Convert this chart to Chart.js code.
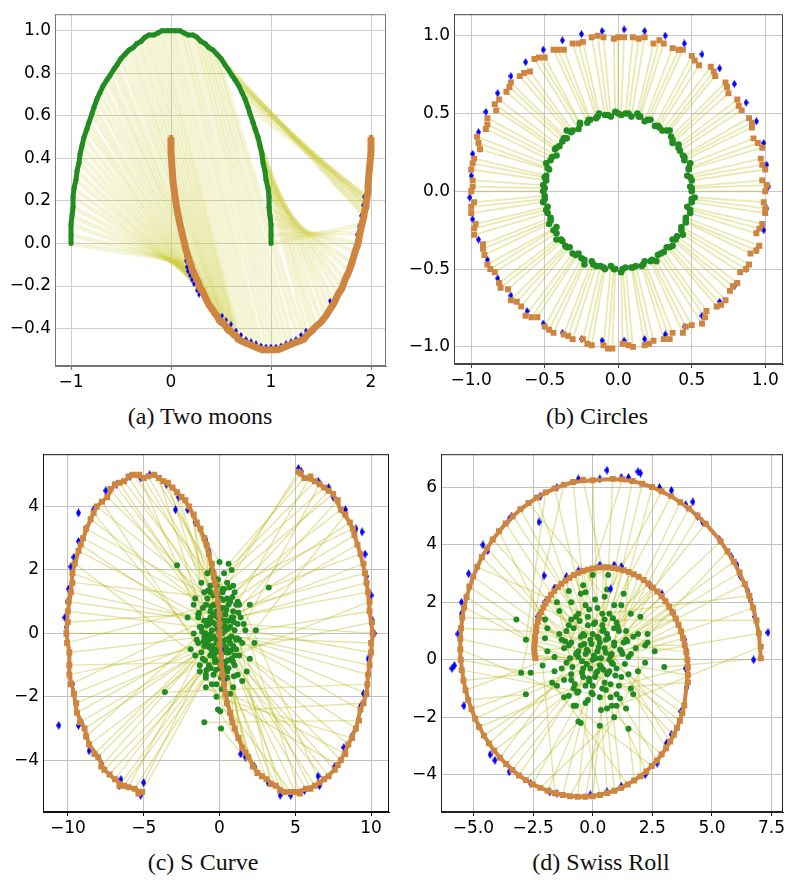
<!DOCTYPE html>
<html>
<head>
<meta charset="utf-8">
<script src="https://cdn.jsdelivr.net/npm/chart.js@4.4.1/dist/chart.umd.min.js"></script>
<style>
  body { margin: 0; background: #fff; width: 788px; height: 880px; position: relative; overflow: hidden; }
  canvas { position: absolute; }
  .cap { position: absolute; width: 394px; text-align: center; font-family: "Liberation Serif", "Times New Roman", serif;
         font-size: 24px; line-height: 24px; color: #111; }
</style>
</head>
<body>
<canvas id="chartA" width="394" height="400" style="left:0;top:0"></canvas>
<canvas id="chartB" width="394" height="400" style="left:394px;top:0"></canvas>
<canvas id="chartC" width="394" height="400" style="left:0;top:440px"></canvas>
<canvas id="chartD" width="394" height="400" style="left:394px;top:440px"></canvas>
<div class="cap" style="left:3px;top:404px">(a) Two moons</div>
<div class="cap" style="left:400px;top:404px">(b) Circles</div>
<div class="cap" style="left:6px;top:850px">(c) S Curve</div>
<div class="cap" style="left:404px;top:850px">(d) Swiss Roll</div>
<script>
// (a) Two moons: green source i is linked to orange target i
const greenA = [[-1.00,0.00],[-1.00,0.04],[-1.00,0.09],[-0.99,0.13],[-0.98,0.17],[-0.98,0.22],[-0.97,0.26],[-0.95,0.30],[-0.94,0.34],[-0.92,0.38],
  [-0.91,0.42],[-0.89,0.46],[-0.87,0.50],[-0.84,0.54],[-0.82,0.57],[-0.79,0.61],[-0.77,0.64],[-0.74,0.68],[-0.71,0.71],[-0.68,0.74],
  [-0.64,0.77],[-0.61,0.79],[-0.57,0.82],[-0.54,0.84],[-0.50,0.87],[-0.46,0.89],[-0.42,0.91],[-0.38,0.92],[-0.34,0.94],[-0.30,0.95],
  [-0.26,0.97],[-0.22,0.98],[-0.17,0.98],[-0.13,0.99],[-0.09,1.00],[-0.04,1.00],[0.00,1.00],[0.04,1.00],[0.09,1.00],[0.13,0.99],
  [0.17,0.98],[0.22,0.98],[0.26,0.97],[0.30,0.95],[0.34,0.94],[0.38,0.92],[0.42,0.91],[0.46,0.89],[0.50,0.87],[0.54,0.84],
  [0.57,0.82],[0.61,0.79],[0.64,0.77],[0.68,0.74],[0.71,0.71],[0.74,0.68],[0.77,0.64],[0.79,0.61],[0.82,0.57],[0.84,0.54],
  [0.87,0.50],[0.89,0.46],[0.91,0.42],[0.92,0.38],[0.94,0.34],[0.95,0.30],[0.97,0.26],[0.98,0.22],[0.98,0.17],[0.99,0.13],
  [1.00,0.09],[1.00,0.04],[1.00,0.00]];
const orangeA = [[0.19,-0.09],[0.20,-0.10],[0.21,-0.12],[0.22,-0.13],[0.23,-0.14],[0.25,-0.16],
  [0.27,-0.18],[0.28,-0.19],[0.29,-0.21],[0.31,-0.22],[0.32,-0.23],[0.33,-0.24],[0.34,-0.25],[0.36,-0.27],[0.37,-0.28],[0.38,-0.29],
  [0.40,-0.30],[0.41,-0.31],[0.43,-0.32],[0.44,-0.33],[0.46,-0.34],[0.47,-0.35],[0.48,-0.36],[0.50,-0.37],[0.52,-0.37],[0.53,-0.38],
  [0.55,-0.39],[0.56,-0.40],[0.58,-0.41],[0.59,-0.41],[0.61,-0.42],[0.63,-0.43],[0.64,-0.43],[0.66,-0.44],[0.67,-0.45],
  [0.71,-0.46],[0.76,-0.47],[0.81,-0.48],[0.86,-0.49],[0.91,-0.50],[0.97,-0.50],[1.02,-0.50],[1.07,-0.50],[1.12,-0.49],[1.17,-0.48],
  [1.22,-0.47],[1.28,-0.46],[1.33,-0.45],
  [1.93,0.13],[1.93,0.14],[1.94,0.16],[1.95,0.17],[1.95,0.19],[1.95,0.19],[1.96,0.21],[1.96,0.21],[1.96,0.22],
  [1.36,-0.43],[1.41,-0.41],[1.45,-0.39],[1.50,-0.37],[1.55,-0.34],[1.59,-0.31],[1.63,-0.28],[1.67,-0.24],[1.71,-0.21],[1.74,-0.17],
  [1.78,-0.13],[1.81,-0.09],[1.84,-0.04],[1.87,0.00],[1.89,0.05],[1.91,0.09]];
const orangeArmsA = [[0.00,0.50],[0.00,0.43],[0.01,0.36],[0.02,0.29],[0.04,0.22],[0.06,0.16],[0.09,0.09],[0.12,0.03],[0.15,-0.03],[0.17,-0.06],
  [1.97,0.24],[1.97,0.27],[1.98,0.33],[1.99,0.38],[2.00,0.43],[2.00,0.50]];
const blueA = [[0.14,-0.03],[0.15,-0.06],[0.15,-0.08],[0.16,-0.11],[0.17,-0.13],[0.19,-0.15],[0.21,-0.17],[0.23,-0.19],[0.26,-0.22],[0.28,-0.24],
  [0.51,-0.34],[0.55,-0.36],[0.60,-0.38],[0.65,-0.41],[0.70,-0.43],[0.75,-0.45],[0.80,-0.46],[0.85,-0.47],[0.90,-0.48],[0.95,-0.485],
  [1.00,-0.485],[1.05,-0.485],[1.10,-0.48],[1.15,-0.47],[1.20,-0.46],[1.25,-0.45],[1.30,-0.43],[1.35,-0.41],
  [1.59,-0.27],[1.60,-0.28],[1.86,0.04],[1.88,0.08],[1.90,0.13],[1.92,0.18],[1.93,0.22]];
const xTicksA = [-1, 0, 1, 2];
const xLabelsA = ['−1', '0', '1', '2'];
const yTicksA = [-0.4, -0.2, 0, 0.2, 0.4, 0.6, 0.8, 1.0];
const yLabelsA = ['−0.4', '−0.2', '0.0', '0.2', '0.4', '0.6', '0.8', '1.0'];

// (b) Circles
const greenB = [[0.50,0.00],[0.49,0.03],[0.50,0.07],[0.47,0.10],[0.48,0.14],[0.49,0.18],[0.45,0.20],[0.44,0.23],[0.42,0.26],[0.41,0.30],
  [0.37,0.31],[0.36,0.35],[0.35,0.39],[0.30,0.39],[0.28,0.41],[0.25,0.42],[0.22,0.46],[0.18,0.45],[0.15,0.48],[0.13,0.50],
  [0.09,0.48],[0.05,0.50],[0.02,0.49],[-0.02,0.51],[-0.05,0.48],[-0.09,0.49],[-0.13,0.50],[-0.15,0.47],[-0.19,0.46],[-0.21,0.44],
  [-0.26,0.44],[-0.27,0.40],[-0.31,0.39],[-0.35,0.39],[-0.35,0.34],[-0.38,0.32],[-0.40,0.29],[-0.43,0.27],[-0.42,0.23],[-0.46,0.20],
  [-0.49,0.18],[-0.47,0.14],[-0.49,0.10],[-0.49,0.07],[-0.51,0.04],[-0.51,0.00],[-0.50,-0.03],[-0.51,-0.07],[-0.48,-0.10],[-0.48,-0.14],
  [-0.46,-0.17],[-0.47,-0.21],[-0.42,-0.23],[-0.42,-0.27],[-0.42,-0.31],[-0.38,-0.32],[-0.36,-0.35],[-0.33,-0.36],[-0.31,-0.40],[-0.27,-0.40],
  [-0.25,-0.43],[-0.23,-0.47],[-0.18,-0.45],[-0.15,-0.48],[-0.12,-0.48],[-0.09,-0.50],[-0.05,-0.48],[-0.02,-0.50],[0.02,-0.52],[0.05,-0.49],
  [0.09,-0.49],[0.12,-0.48],[0.16,-0.48],[0.18,-0.45],[0.22,-0.45],[0.26,-0.45],[0.27,-0.41],[0.31,-0.39],[0.33,-0.36],[0.37,-0.35],
  [0.37,-0.31],[0.40,-0.29],[0.44,-0.28],[0.43,-0.23],[0.46,-0.20],[0.46,-0.17],[0.49,-0.14],[0.47,-0.10],[0.50,-0.07],[0.52,-0.04]];
const orangeB = [[1.00,0.00],[0.98,0.07],[1.00,0.14],[0.97,0.21],[0.98,0.28],[0.92,0.34],[0.91,0.41],[0.89,0.47],[0.84,0.52],[0.81,0.59],
  [0.75,0.63],[0.73,0.70],[0.66,0.74],[0.63,0.80],[0.55,0.81],[0.50,0.87],[0.44,0.91],[0.37,0.92],[0.31,0.95],[0.24,0.95],
  [0.18,0.99],[0.10,0.99],[0.04,0.99],[-0.03,0.98],[-0.10,0.99],[-0.18,0.99],[-0.24,0.96],[-0.31,0.95],[-0.37,0.91],[-0.44,0.91],
  [-0.50,0.86],[-0.57,0.85],[-0.60,0.77],[-0.67,0.74],[-0.73,0.70],[-0.76,0.64],[-0.81,0.59],[-0.83,0.52],[-0.89,0.47],[-0.90,0.40],
  [-0.96,0.35],[-0.94,0.27],[-0.98,0.21],[-1.00,0.14],[-0.99,0.07],[-1.00,0.00],[-0.98,-0.07],[-1.00,-0.14],[-0.97,-0.21],[-0.98,-0.28],
  [-0.92,-0.34],[-0.91,-0.41],[-0.89,-0.47],[-0.84,-0.52],[-0.81,-0.59],[-0.75,-0.63],[-0.73,-0.70],[-0.66,-0.74],[-0.63,-0.80],[-0.55,-0.81],
  [-0.50,-0.87],[-0.44,-0.91],[-0.37,-0.92],[-0.31,-0.95],[-0.24,-0.95],[-0.18,-0.99],[-0.10,-0.99],[-0.04,-1.01],[0.03,-0.98],[0.10,-1.00],
  [0.18,-0.99],[0.24,-0.96],[0.31,-0.95],[0.37,-0.91],[0.44,-0.91],[0.50,-0.86],[0.57,-0.85],[0.60,-0.77],[0.67,-0.74],[0.73,-0.70],
  [0.76,-0.64],[0.81,-0.59],[0.83,-0.52],[0.89,-0.47],[0.90,-0.40],[0.96,-0.35],[0.94,-0.27],[0.98,-0.21],[1.00,-0.14],[0.99,-0.07]];
const greenB2 = [[0.50,0.02],[0.49,0.09],[0.48,0.15],[0.45,0.22],[0.41,0.28],[0.37,0.33],[0.33,0.39],[0.27,0.42],[0.20,0.46],[0.14,0.48],
  [0.07,0.50],[0.00,0.50],[-0.07,0.49],[-0.14,0.48],[-0.20,0.46],[-0.26,0.43],[-0.32,0.38],[-0.37,0.34],[-0.42,0.28],[-0.45,0.22],
  [-0.48,0.15],[-0.50,0.09],[-0.50,0.02],[-0.50,-0.05],[-0.49,-0.12],[-0.46,-0.19],[-0.44,-0.25],[-0.39,-0.31],[-0.35,-0.36],[-0.29,-0.41],
  [-0.23,-0.44],[-0.17,-0.47],[-0.10,-0.49],[-0.03,-0.50],[0.03,-0.50],[0.10,-0.49],[0.17,-0.47],[0.23,-0.44],[0.29,-0.40],[0.35,-0.36],
  [0.39,-0.31],[0.43,-0.25],[0.46,-0.19],[0.49,-0.12],[0.50,-0.05]];
const orangeB2 = [[1.01,0.04],[0.98,0.17],[0.95,0.31],[0.91,0.44],[0.82,0.55],[0.74,0.67],[0.65,0.77],[0.52,0.84],[0.41,0.91],[0.28,0.97],
  [0.14,0.98],[0.00,0.99],[-0.14,1.00],[-0.27,0.95],[-0.41,0.91],[-0.54,0.86],[-0.64,0.76],[-0.74,0.67],[-0.84,0.56],[-0.89,0.43],
  [-0.95,0.31],[-0.99,0.18],[-0.99,0.03],[-1.00,-0.10],[-0.98,-0.24],[-0.92,-0.37],[-0.87,-0.50],[-0.80,-0.62],[-0.69,-0.71],[-0.59,-0.81],
  [-0.47,-0.89],[-0.34,-0.93],[-0.21,-0.98],[-0.07,-1.01],[0.07,-0.99],[0.21,-0.98],[0.35,-0.95],[0.46,-0.87],[0.59,-0.81],[0.70,-0.73],
  [0.78,-0.61],[0.87,-0.50],[0.94,-0.38],[0.96,-0.24],[1.00,-0.11]];
const blueB = [[1.02,0.03],[1.01,0.17],[0.99,0.31],[0.94,0.45],[0.87,0.57],[0.79,0.69],[0.69,0.79],[0.57,0.88],[0.45,0.95],[0.32,1.00],
  [0.18,1.03],[0.04,1.04],[-0.11,1.03],[-0.25,1.01],[-0.38,0.97],[-0.51,0.91],[-0.63,0.83],[-0.73,0.74],[-0.82,0.63],[-0.90,0.51],
  [-0.95,0.38],[-0.99,0.24],[-1.00,0.10],[-1.01,-0.04],[-0.99,-0.18],[-0.95,-0.31],[-0.89,-0.44],[-0.82,-0.56],[-0.73,-0.67],[-0.62,-0.77],
  [-0.51,-0.85],[-0.38,-0.91],[-0.25,-0.95],[-0.11,-0.96],[0.04,-0.96],[0.18,-0.95],[0.32,-0.92],[0.45,-0.87],[0.57,-0.80],[0.69,-0.71],
  [0.79,-0.61],[0.87,-0.50],[0.94,-0.38],[0.99,-0.25],[1.01,-0.11]];
const xTicksB = [-1, -0.5, 0, 0.5, 1];
const xLabelsB = ['−1.0', '−0.5', '0.0', '0.5', '1.0'];
const yTicksB = [-1, -0.5, 0, 0.5, 1];
const yLabelsB = ['−1.0', '−0.5', '0.0', '0.5', '1.0'];

// (c) S Curve: orangeC listed along the curve
const orangeC = [[-5.1,-5.0],[-5.6,-4.9],[-6.3,-4.8],[-6.9,-4.6],[-7.6,-4.3],[-8.0,-3.9],[-8.6,-3.5],[-8.9,-3.0],[-9.4,-2.5],[-9.6,-1.9],
  [-9.9,-1.3],[-9.9,-0.6],[-10.1,0.0],[-10.0,0.7],[-9.8,1.3],[-9.7,1.9],[-9.3,2.6],[-9.0,3.0],[-8.5,3.6],[-8.1,4.0],
  [-7.4,4.3],[-6.9,4.7],[-6.3,4.8],[-5.7,5.0],[-5.0,4.9],[-4.3,5.0],[-3.7,4.8],[-3.1,4.6],[-2.5,4.3],[-2.0,4.0],
  [-1.5,3.5],[-1.0,3.0],[-0.7,2.5],[-0.4,1.9],[-0.2,1.3],[0.0,0.6],[0.0,0.0],[0.1,-0.7],[0.2,-1.3],[0.4,-1.9],
  [0.7,-2.5],[1.0,-3.0],[1.5,-3.6],[1.9,-3.9],[2.5,-4.4],[3.1,-4.6],[3.7,-4.8],[4.3,-5.0],[5.0,-5.0],[5.7,-4.9],
  [6.3,-4.8],[6.9,-4.6],[7.6,-4.3],[8.0,-4.0],[8.5,-3.5],[9.0,-3.0],[9.3,-2.4],[9.7,-1.9],[9.8,-1.3],[10.0,-0.6],
  [10.1,0.0],[9.9,0.7],[9.8,1.3],[9.6,1.9],[9.3,2.5],[8.9,3.1],[8.6,3.5],[8.0,3.9],[7.5,4.4],[6.9,4.6],
  [6.3,4.8],[5.6,4.9],[5.2,5.1]];
const greenC = [[-0.6,-1.1],[-0.3,-0.9],[-0.9,-1.3],[-0.5,-0.6],[-1.3,-1.2],[-0.8,-0.4],[-1.1,-0.8],[-1.6,-0.7],[-0.7,-0.2],[-1.4,-0.3],
  [-1.9,-0.5],[-1.0,-0.1],[-1.7,0.0],[-1.2,0.2],[-0.8,0.4],[-2.1,0.5],[-1.4,0.6],[-0.9,0.9],[-1.6,1.1],[-1.0,1.3],
  [-2.8,2.15],[-0.6,0.7],[-1.2,1.6],[-0.8,1.9],[-0.4,1.2],[-0.5,2.0],[-0.2,1.5],[-0.3,0.9],[0.0,2.25],[-0.6,1.3],
  [0.1,1.1],[-0.1,1.7],[-0.4,0.6],[0.2,1.4],[-0.2,0.3],[0.3,0.8],[-0.1,-0.2],[0.3,-0.4],[-0.3,-0.5],[0.2,-1.3],
  [-0.2,-1.6],[0.6,-1.1],[-0.1,-2.4],[0.4,-0.9],[0.1,-3.0],[0.9,-1.7],[0.5,-1.4],[1.2,-1.3],[0.8,-0.8],[1.5,-1.5],
  [0.6,-0.6],[1.0,-1.0],[1.8,-1.2],[1.3,-0.7],[0.9,-0.4],[2.0,-0.8],[1.5,-0.3],[1.1,-0.2],[2.3,-0.3],[1.7,0.1],
  [1.2,0.3],[2.4,0.1],[0.9,0.5],[2.0,0.9],[3.25,1.45],[1.3,0.9],[0.7,1.0],[1.0,1.3],[0.5,1.6],[0.8,2.0],
  [0.3,1.9],[0.6,2.2],[0.2,1.3]];
const orangeC2 = [[-5.35,-5.05],[-6.0,-4.85],[-6.6,-4.8],[-7.25,-4.45],[-7.8,-4.2],[-8.25,-3.8],[-8.8,-3.25],[-9.2,-2.8],[-9.45,-2.2],[-9.8,-1.6],
  [-9.9,-1.0],[-10.05,-0.3],[-10.0,0.35],[-9.95,1.0],[-9.7,1.6],[-9.55,2.2],[-9.15,2.8],[-8.8,3.3],[-8.3,3.8],[-7.75,4.15],
  [-7.2,4.55],[-6.6,4.75],[-6.0,4.95],[-5.3,5.0],[-4.7,4.95],[-4.0,4.9],[-3.4,4.75],[-2.8,4.45],[-2.25,4.2],[-1.7,3.75],
  [-1.25,3.3],[-0.85,2.8],[-0.5,2.2],[-0.3,1.6],[-0.1,1.0],[0.0,0.3],[0.0,-0.35],[0.1,-1.0],[0.3,-1.6],[0.5,-2.2],
  [0.85,-2.8],[1.25,-3.3],[1.7,-3.75],[2.2,-4.2],[2.8,-4.5],[3.4,-4.75],[4.0,-4.95],[4.7,-5.0],[5.3,-5.05],[6.0,-4.9],
  [6.6,-4.7],[7.2,-4.5],[7.8,-4.15],[8.3,-3.8],[8.75,-3.3],[9.2,-2.75],[9.5,-2.2],[9.75,-1.6],[9.9,-1.0],[10.0,-0.3],
  [10.05,0.35],[9.9,1.0],[9.7,1.6],[9.5,2.2],[9.1,2.8],[8.8,3.3],[8.3,3.75],[7.8,4.2],[7.2,4.5],[6.6,4.7],
  [6.0,4.95],[5.35,5.05]];
const greenC2 = [[0.1,0.2],[-0.5,0.1],[0.4,-0.2],[-0.3,-0.8],[0.6,0.4],[-0.8,-0.3],[0.2,0.6],[-0.2,-0.3],[0.8,-0.1],[-0.6,0.5],
  [0.3,-0.9],[-0.4,0.9],[0.9,0.7],[-1.0,0.4],[0.5,1.1],[-0.7,-1.0],[1.1,-0.5],[-0.1,1.0],[0.0,-1.1],[-1.2,-0.6],
  [0.7,-0.3],[-0.3,0.3],[0.4,0.1],[-0.9,0.0],[1.0,0.1],[-0.5,-0.4],[0.2,-0.6],[-0.2,0.7],[0.6,0.9],[-1.1,0.8],
  [0.9,-0.9],[-0.4,-1.3],[0.3,1.4],[-1.3,0.2],[1.4,0.5],[-0.8,1.1],[0.1,-1.4],[1.2,1.0],[-1.5,-0.2],[0.5,-1.2],
  [-0.6,-0.7],[0.7,0.2],[-0.1,0.5],[0.0,-0.6],[-1.3,-1.0],[1.3,-0.2],[0.4,0.6],[-0.9,-1.4],[1.6,0.3],[-0.6,1.5],
  [0.9,1.5],[-1.7,0.9],[-0.9,-1.7],[0.7,-1.9],[-0.2,-2.0],[-1.0,-2.8],[0.05,-2.45],[-3.6,-1.85],[0.2,0.0],[-0.4,-0.1],
  [0.5,-0.6],[-0.1,-0.9],[0.3,0.4],[-0.7,0.3],[0.8,0.5],[-0.3,1.2],[1.0,-0.7],[-1.0,-0.4],[0.1,0.8],[-0.5,-1.6],
  [1.1,0.9],[-1.4,0.5]];
const greenCoreC = [[-0.15,0.15],[0.25,-0.35],[-0.45,-0.15],[0.55,0.15],[-0.25,0.55],[0.15,-0.25],[-0.65,-0.45],[0.45,0.75],[-0.05,-0.45],[0.75,-0.55],
  [-0.85,0.25],[0.05,0.45],[-0.35,-0.65],[0.65,-0.15],[-0.55,0.85],[0.35,-1.05],[-0.95,-0.85],[0.95,0.35],[-0.15,1.25],[0.25,1.05],
  [-1.15,0.05],[1.15,-0.15],[-0.75,1.35],[0.55,-0.85],[-0.25,-1.15],[0.85,1.15],[-1.05,-0.25],[0.15,-1.75],[-0.45,0.35],[0.35,0.25],
  [-0.05,0.05],[0.45,-0.45],[-0.65,-0.05],[0.05,0.75],[-0.85,-1.15],[1.25,0.65],[-1.35,0.65],[0.65,1.45],[-0.35,1.75],[0.95,-1.35]];
const blueC = [[-5.2,-5.1],[-5.0,-4.7],[-6.5,-4.6],[-6.6,-4.8],[-7.8,-4.1],[-8.6,-3.7],[-9.1,-2.8],[-9.3,-2.9],[-9.7,-1.6],[-10.0,-0.3],
  [-10.1,0.2],[-10.2,0.5],[-10.0,1.0],[-9.95,1.4],[-9.8,2.1],[-9.6,2.4],[-9.3,2.9],[-8.8,3.3],[-8.3,3.9],[-7.5,4.5],
  [-6.8,4.7],[-5.9,4.95],[-5.2,4.9],[-4.6,5.0],[-3.5,4.7],[-2.7,4.3],[-2.1,3.9],[-1.6,3.5],[-0.9,2.95],[-0.7,2.6],
  [-0.3,1.6],[-0.1,1.0],[0.1,-0.5],[0.3,-1.5],[0.5,-2.2],[0.8,-2.7],[1.4,-3.8],[1.7,-3.9],[2.3,-4.2],[3.2,-4.7],
  [4.0,-5.1],[4.7,-5.1],[5.6,-4.95],[6.5,-4.5],[6.6,-4.8],[7.6,-4.2],[8.2,-3.6],[8.8,-3.2],[9.3,-2.3],[9.5,-1.9],
  [9.8,-0.8],[10.2,0.0],[10.1,0.4],[10.0,1.2],[9.7,1.8],[9.6,2.5],[9.4,3.2],[9.0,3.3],[8.3,3.9],[7.5,4.3],
  [7.2,4.6],[6.5,4.8],[5.2,5.2],[5.4,5.1],[-10.6,-2.9],[-9.3,3.8],[-2.9,3.9]];
const xTicksC = [-10, -5, 0, 5, 10];
const xLabelsC = ['−10', '−5', '0', '5', '10'];
const yTicksC = [-4, -2, 0, 2, 4];
const yLabelsC = ['−4', '−2', '0', '2', '4'];

// (d) Swiss Roll: orangeD listed along the spiral, from the inner end outwards
const orangeD = [[-2.40,0.05],[-2.45,0.32],[-2.42,0.66],[-2.38,1.00],[-2.30,1.33],[-2.16,1.66],[-1.97,1.97],[-1.74,2.27],[-1.46,2.53],[-1.14,2.76],
  [-0.79,2.95],[-0.41,3.09],[0.00,3.18],[0.43,3.22],[0.86,3.20],[1.29,3.12],[1.72,2.98],[2.14,2.78],[2.52,2.52],[2.89,2.22],
  [3.21,1.85],[3.48,1.44],[3.71,0.99],[3.86,0.51],[3.97,0.00],[3.99,-0.53],[3.84,-1.59],[3.66,-2.12],[3.40,-2.61],[3.08,-3.08],
  [2.69,-3.51],[2.25,-3.89],[1.74,-4.20],[1.20,-4.46],[0.61,-4.64],[0.00,-4.75],[-0.63,-4.77],[-1.26,-4.71],[-1.89,-4.56],[-2.51,-4.34],
  [-3.09,-4.03],[-3.63,-3.63],[-4.13,-3.17],[-4.56,-2.64],[-4.93,-2.05],[-5.22,-1.40],[-5.42,-0.72],[-5.53,0.00],[-5.55,0.73],[-5.47,1.47],
  [-5.29,2.19],[-5.01,2.90],[-4.65,3.57],[-4.19,4.19],[-3.65,4.75],[-3.03,5.24],[-2.34,5.65],[-1.60,5.97],[-0.82,6.19],[0.00,6.25],
  [0.84,6.30],[1.67,6.23],[2.49,6.02],[3.29,5.70],[4.04,5.27],[4.74,4.74],[5.37,4.12],[5.92,3.42],[6.38,2.64],[6.73,1.81],
  [6.97,0.92],[7.05,0.05]];
const greenD = [[-0.6,0.1],[-1.2,0.4],[-0.3,0.2],[-0.9,0.6],[-1.4,0.9],[-0.5,0.5],[-1.0,1.2],[-0.4,0.9],[-0.7,1.5],[-0.1,0.7],
  [-0.3,1.9],[0.1,1.3],[-0.5,2.3],[0.4,1.0],[0.0,2.95],[0.7,1.6],[0.3,0.6],[1.0,1.3],[0.6,0.9],[1.4,1.0],
  [0.9,0.5],[1.7,0.8],[1.2,0.3],[2.2,0.5],[1.5,0.1],[0.8,-0.1],[1.9,-0.4],[1.2,-0.6],[0.7,-0.4],[1.6,-1.0],
  [1.0,-1.2],[0.5,-0.8],[1.5,-2.4],[0.8,-1.6],[0.3,-1.3],[0.3,-2.3],[-0.2,-1.4],[-0.5,-2.2],[0.0,-0.9],[-0.7,-1.6],
  [-0.4,-0.6],[-1.2,-1.3],[-0.8,-1.0],[-1.5,-0.9],[-0.9,-0.5],[-2.8,-1.2],[-1.6,-0.4],[-2.6,-0.45],[-1.1,-0.1],[-3.2,1.4],
  [-1.9,0.3],[-1.3,0.7],[-2.0,1.4],[-0.8,1.1],[-1.5,2.0],[-0.6,1.6],[-1.0,2.4],[-0.2,1.2],[-0.4,2.6],[0.2,1.8],
  [0.65,2.95],[0.5,1.4],[1.3,2.3],[0.9,1.9],[1.6,1.6],[1.1,1.0],[2.0,1.5],[1.4,0.7],[2.3,0.9],[1.8,0.4],
  [2.6,0.3],[3.0,-0.25]];
const orangeD2 = [[-2.43,0.16],[-2.45,0.49],[-2.43,0.82],[-2.36,1.16],[-2.24,1.50],[-2.07,1.82],[-1.86,2.12],[-1.61,2.40],[-1.31,2.65],[-0.97,2.86],
  [-0.60,3.03],[-0.20,3.14],[0.21,3.21],[0.64,3.22],[1.07,3.17],[1.51,3.06],[1.93,2.89],[2.33,2.66],[2.71,2.38],[3.05,2.04],
  [3.35,1.65],[3.60,1.22],[3.79,0.75],[3.93,0.26],[3.99,-0.26],[3.99,-0.79],[3.76,-1.85],[3.54,-2.37],[3.25,-2.85],[2.89,-3.30],
  [2.48,-3.70],[2.00,-4.06],[1.47,-4.34],[0.91,-4.56],[0.31,-4.71],[-0.31,-4.77],[-0.95,-4.75],[-1.58,-4.65],[-2.20,-4.46],[-2.80,-4.19],
  [-3.37,-3.84],[-3.89,-3.41],[-4.35,-2.91],[-4.76,-2.34],[-5.08,-1.72],[-5.33,-1.06],[-5.49,-0.36],[-5.55,0.36],[-5.52,1.10],[-5.39,1.83],
  [-5.17,2.55],[-4.84,3.24],[-4.43,3.88],[-3.93,4.48],[-3.35,5.00],[-2.69,5.46],[-1.97,5.83],[-1.21,6.10],[-0.41,6.27],[1.25,6.29],
  [2.08,6.13],[2.89,5.87],[3.67,5.49],[4.40,5.02],[5.65,3.78],[6.16,3.04],[6.57,2.23],[6.87,1.37],[7.05,0.46]];
const greenD2 = [[0.0,0.0],[0.3,-0.2],[-0.2,0.3],[0.5,0.4],[-0.4,-0.3],[0.2,0.8],[0.8,0.2],[-0.7,0.2],[0.1,-0.6],[0.6,-0.5],
  [-0.3,-0.9],[1.0,-0.3],[-1.0,0.5],[0.4,1.2],[-0.6,-1.1],[1.3,0.6],[0.0,-1.2],[-1.3,-0.3],[0.9,1.1],[-0.9,-0.7],
  [0.2,0.3],[-0.1,-0.3],[0.7,0.0],[-0.5,0.8],[1.1,-0.9],[0.4,-1.0],[-1.1,1.0],[1.5,-0.5],[-0.2,1.5],[0.6,-1.7],
  [-0.8,-1.6],[1.9,0.9],[-1.7,-0.8],[0.1,2.1],[-1.4,1.7],[1.2,1.9],[2.2,-0.1],[-2.1,-0.2],[0.9,-2.0],[-0.6,-2.15],
  [0.35,0.05],[-0.35,0.55],[0.55,0.7],[-0.15,-0.75],[1.25,0.2],[-1.6,0.1],[0.75,-1.3],[-1.0,-1.25],[0.0,0.9],[1.7,-1.2],
  [-2.0,0.75],[2.3,0.6],[1.4,-1.7],[-1.9,1.1],[-0.9,2.0],[0.5,2.2],[-2.8,0.7],[-3.0,-0.45],[0.6,2.45],[-0.3,2.35],
  [0.2,-0.4],[-0.6,0.3],[0.9,0.6],[-0.3,-1.5],[1.6,0.2],[-1.2,-0.7],[0.4,1.6],[-0.9,1.4],[1.0,-1.6]];
const greenCoreD = [[0.05,0.15],[0.45,-0.35],[-0.25,-0.15],[0.75,0.15],[-0.05,0.55],[0.35,-0.25],[-0.45,-0.45],[0.65,0.75],[0.15,-0.45],[0.95,-0.55],
  [-0.65,0.25],[0.25,0.45],[-0.15,-0.65],[0.85,-0.15],[-0.35,0.85],[0.55,-1.05],[-0.75,-0.85],[1.15,0.35],[0.05,1.25],[0.45,1.05],
  [-0.95,0.05],[1.35,-0.15],[-0.55,1.35],[0.75,-0.85],[-0.05,-1.15],[1.05,1.15],[-0.85,-0.25],[0.35,-1.75],[-0.25,0.35],[0.55,0.25],
  [0.15,0.05],[0.65,-0.45],[-0.45,-0.05],[0.25,0.75],[-0.65,-1.15],[1.45,0.65],[-1.15,0.65],[0.85,1.45],[-0.15,1.75],[1.15,-1.35]];
const blueD = [[-0.6,6.3],[0.6,6.6],[1.2,6.35],[2.0,6.5],[1.5,6.35],[-2.2,5.7],[-1.5,6.0],[-3.4,5.0],[-3.5,4.9],[-4.6,4.0],
  [-4.4,3.8],[-5.2,3.0],[-5.5,2.0],[-5.5,1.6],[-5.65,0.9],[-5.8,-0.2],[-5.9,-0.3],[-5.4,-1.6],[-4.8,-2.3],[-4.3,-3.3],
  [-4.1,-3.5],[-3.5,-3.9],[-2.6,-4.3],[-1.8,-4.6],[-1.5,-4.65],[-0.1,-4.7],[0.6,-4.6],[1.2,-4.4],[2.2,-4.0],[2.7,-3.6],
  [3.1,-2.9],[3.3,-2.6],[3.7,-1.8],[3.95,-0.95],[3.9,-0.3],[3.95,0.3],[3.85,0.7],[3.4,1.6],[2.9,2.3],[2.4,2.6],
  [1.2,3.25],[0.9,3.3],[0.3,3.3],[-0.6,3.1],[-1.1,2.9],[-1.6,2.5],[-2.0,2.0],[-2.3,1.5],[-2.4,0.9],[-2.45,0.4],
  [-2.25,4.8],[-2.04,2.93],[0.75,2.47],[5.3,4.2],[5.8,3.6],[6.05,3.3],[6.2,2.9],[6.5,2.4],[6.6,2.1],[6.8,1.5],
  [7.35,0.95],[6.75,0.0],[2.8,6.0],[3.3,5.9],[3.9,5.4],[4.4,5.0],[4.6,4.8],[4.2,5.5],[1.9,6.55],[0.3,6.3]];
const xTicksD = [-5, -2.5, 0, 2.5, 5, 7.5];
const xLabelsD = ['−5.0', '−2.5', '0.0', '2.5', '5.0', '7.5'];
const yTicksD = [-4, -2, 0, 2, 4, 6];
const yLabelsD = ['−4', '−2', '0', '2', '4', '6'];

// ---- styling and helpers ----
const GREEN = '#228b22', ORANGE = '#cd853f', BLUE = '#0000ff';
Chart.defaults.font.family = "'DejaVu Sans', sans-serif";
Chart.defaults.font.size = 17;
Chart.defaults.color = '#000';

const toXY = (arr) => arr.map(p => ({ x: p[0], y: p[1] }));

// one segment per pair, separated by an empty point
function linkData(src, dst) {
  const out = [];
  const n = Math.min(src.length, dst.length);
  for (let i = 0; i < n; i++) {
    out.push({ x: src[i][0], y: src[i][1] }, { x: dst[i][0], y: dst[i][1] }, { x: null, y: null });
  }
  return out;
}

function thinDiamond(w, h) {
  const c = document.createElement('canvas');
  c.width = w; c.height = h;
  const g = c.getContext('2d');
  g.fillStyle = BLUE;
  g.beginPath();
  g.moveTo(w / 2, 0); g.lineTo(w, h / 2); g.lineTo(w / 2, h); g.lineTo(0, h / 2);
  g.closePath(); g.fill();
  return c;
}

// frame on all four sides of the plot area
const framePlugin = {
  id: 'frame',
  afterDraw(chart, args, opts) {
    const a = chart.chartArea, ctx = chart.ctx;
    ctx.save();
    ctx.strokeStyle = opts.color;
    ctx.lineWidth = 1;
    ctx.strokeRect(a.left + 0.5, a.top + 0.5, a.right - a.left - 1, a.bottom - a.top - 1);
    ctx.restore();
  }
};

// each segment stroked on its own so overlapping lines build up like in the figure
function linkSet(src, dst, width, color) {
  return {
    data: linkData(src, dst), showLine: true, borderColor: color, borderWidth: width,
    pointRadius: 0, segment: { borderColor: color }, order: 6
  };
}

function drawPanel(id, p) {
  new Chart(document.getElementById(id), {
    type: 'scatter',
    data: { datasets: p.datasets },
    options: {
      responsive: false,
      animation: false,
      events: [],
      layout: { padding: p.padding },
      plugins: { legend: { display: false }, tooltip: { enabled: false }, frame: { color: p.frame } },
      scales: {
        x: {
          min: p.xRange[0], max: p.xRange[1],
          afterBuildTicks: (s) => { s.ticks = p.xTicks.map(v => ({ value: v })); },
          afterFit: (s) => { s.height = p.xHeight; },
          ticks: { callback: (v, i) => p.xLabels[i], padding: 2, autoSkip: false, maxRotation: 0 },
          grid: { color: p.grid, tickColor: p.frame, tickLength: 4 },
          border: { color: p.frame }
        },
        y: {
          min: p.yRange[0], max: p.yRange[1],
          afterBuildTicks: (s) => { s.ticks = p.yTicks.map(v => ({ value: v })); },
          afterFit: (s) => { s.width = p.yWidth; },
          ticks: { callback: (v, i) => p.yLabels[i], padding: 4, autoSkip: false },
          grid: { color: p.grid, drawTicks: false },
          border: { color: p.frame }
        }
      }
    },
    plugins: [framePlugin]
  });
}

// (a) orange arc drawn in order along the moon
const arcA = toXY(orangeA.concat(orangeArmsA))
  .sort((a, b) => Math.atan2(0.5 - a.y, 1 - a.x) - Math.atan2(0.5 - b.y, 1 - b.x));
drawPanel('chartA', {
  padding: { top: 7, right: 8, left: 0, bottom: 0 }, xHeight: 34, yWidth: 55,
  xRange: [-1.16, 2.15], yRange: [-0.576, 1.078], frame: '#777', grid: '#cfcfcf',
  xTicks: xTicksA, xLabels: xLabelsA, yTicks: yTicksA, yLabels: yLabelsA,
  datasets: [
    { data: arcA, showLine: true, borderColor: ORANGE, borderWidth: 7, pointStyle: 'rect', pointRadius: 3,
      backgroundColor: ORANGE, pointBorderWidth: 0, order: 1 },
    { data: toXY(blueA), pointStyle: thinDiamond(4, 6), pointRadius: 3, order: 3 },
    { data: toXY(greenA), showLine: true, borderColor: GREEN, borderWidth: 5, pointRadius: 2.5,
      backgroundColor: GREEN, pointBorderWidth: 0, order: 4 },
    linkSet(greenA, orangeA, 4.5, 'rgba(200,200,50,0.2)')
  ]
});

drawPanel('chartB', {
  padding: { top: 7, right: 2, left: 0, bottom: 0 }, xHeight: 36, yWidth: 60,
  xRange: [-1.117, 1.121], yRange: [-1.11, 1.138], frame: '#444', grid: '#c8c8c8',
  xTicks: xTicksB, xLabels: xLabelsB, yTicks: yTicksB, yLabels: yLabelsB,
  datasets: [
    { data: toXY(orangeB.concat(orangeB2)), pointStyle: 'rect', pointRadius: 4.2, backgroundColor: ORANGE, pointBorderWidth: 0, order: 1 },
    { data: toXY(blueB), pointStyle: thinDiamond(5, 8), pointRadius: 3, order: 3 },
    { data: toXY(greenB.concat(greenB2)), pointRadius: 3.3, backgroundColor: GREEN, pointBorderWidth: 0, order: 4 },
    linkSet(greenB, orangeB, 1.8, 'rgba(190,190,30,0.34)'),
    linkSet(greenB2, orangeB2, 1.8, 'rgba(190,190,30,0.34)')
  ]
});

drawPanel('chartC', {
  padding: { top: 14, right: 2, left: 0, bottom: 0 }, xHeight: 28, yWidth: 43,
  xRange: [-11.64, 11.18], yRange: [-5.63, 5.65], frame: '#111', grid: '#c2c2c2',
  xTicks: xTicksC, xLabels: xLabelsC, yTicks: yTicksC, yLabels: yLabelsC,
  datasets: [
    { data: toXY(orangeC), showLine: true, borderColor: ORANGE, borderWidth: 4, pointStyle: 'rect', pointRadius: 4.2,
      backgroundColor: ORANGE, pointBorderWidth: 0, order: 1 },
    { data: toXY(orangeC2), pointStyle: 'rect', pointRadius: 4.2, backgroundColor: ORANGE, pointBorderWidth: 0, order: 1 },
    { data: toXY(blueC), pointStyle: thinDiamond(5, 9), pointRadius: 3, order: 3 },
    { data: toXY(greenC.concat(greenC2, greenCoreC)), pointRadius: 3, backgroundColor: GREEN, pointBorderWidth: 0, order: 4 },
    linkSet(greenC, orangeC, 1.4, 'rgba(185,185,20,0.38)'),
    linkSet(greenC2, orangeC2, 1.4, 'rgba(185,185,20,0.38)')
  ]
});

drawPanel('chartD', {
  padding: { top: 14, right: 1, left: 0, bottom: 0 }, xHeight: 28, yWidth: 47,
  xRange: [-6.36, 7.98], yRange: [-5.30, 7.16], frame: '#222', grid: '#c2c2c2',
  xTicks: xTicksD, xLabels: xLabelsD, yTicks: yTicksD, yLabels: yLabelsD,
  datasets: [
    { data: toXY(orangeD), showLine: true, borderColor: ORANGE, borderWidth: 4, pointStyle: 'rect', pointRadius: 4.2,
      backgroundColor: ORANGE, pointBorderWidth: 0, order: 1 },
    { data: toXY(orangeD2), pointStyle: 'rect', pointRadius: 4.2, backgroundColor: ORANGE, pointBorderWidth: 0, order: 1 },
    { data: toXY(blueD), pointStyle: thinDiamond(5, 9), pointRadius: 3, order: 3 },
    { data: toXY(greenD.concat(greenD2, greenCoreD)), pointRadius: 3, backgroundColor: GREEN, pointBorderWidth: 0, order: 4 },
    linkSet(greenD, orangeD, 1.4, 'rgba(185,185,20,0.38)'),
    linkSet(greenD2, orangeD2, 1.4, 'rgba(185,185,20,0.38)')
  ]
});
</script>
</body>
</html>
